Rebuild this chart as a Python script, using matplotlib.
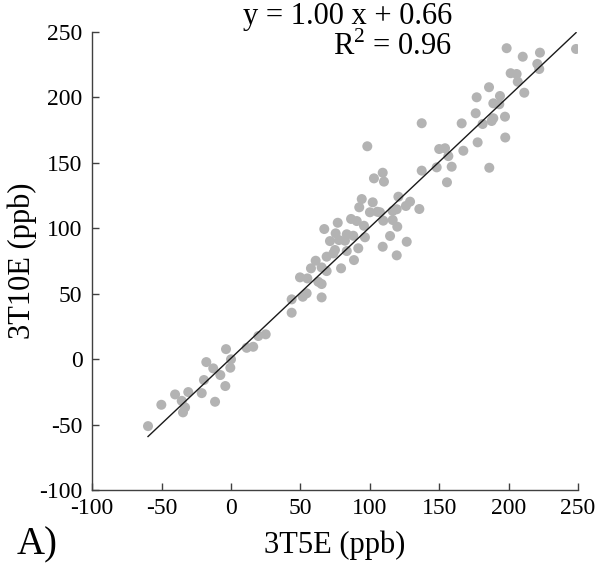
import matplotlib
matplotlib.use("Agg")
import matplotlib.pyplot as plt
import numpy as np

plt.rcParams['font.family'] = ['Liberation Serif', 'DejaVu Serif']
plt.rcParams['axes.unicode_minus'] = False

x_3t5e = [-59.8, -50.2, -40.3, -30.8, -35.5, -33.1, -34.6, -21.1, -19.5, -11.5,
          -17.8, -12.8, -7.7, -4.1, -3.6, 0.0, -0.5, 11.3, 16.0, 19.7, 25.0,
          43.7, 43.7, 49.7, 51.7, 54.5, 55.0, 57.6, 61.0, 62.9, 65.3, 65.3, 65.3,
          68.9, 68.9, 67.2, 71.3, 73.7, 74.9, 75.4, 76.9, 77.8, 79.3, 82.1, 83.4,
          83.4, 86.5, 88.1, 88.6, 90.6, 91.7, 92.4, 94.2, 95.8, 96.5, 100.1, 102.1,
          105.4, 107.3, 98.2, 103.0, 109.3, 110.2, 109.7, 109.3, 114.6, 116.5,
          116.5, 119.4, 119.8, 119.4, 120.6, 126.0, 129.0, 126.6, 135.7,
          137.4, 137.4, 148.2, 150.0, 154.2, 156.6, 155.6, 159.0, 166.2, 167.4,
          176.3, 177.0, 177.7, 181.3, 185.9, 186.1, 187.8, 189.0, 189.0, 193.3,
          193.8, 197.4, 197.6, 198.6, 201.5, 205.8, 206.6, 210.2, 211.3, 220.7,
          222.1, 222.6, 248.6]
y_3t10e = [-51.2, -34.9, -27.0, -25.2, -31.9, -36.9, -40.7, -26.0, -16.0, -32.6,
           -2.3, -7.1, -12.2, -20.6, 7.6, -0.2, -6.6, 8.6, 9.4, 17.6, 18.9,
           45.6, 35.4, 62.4, 47.6, 50.2, 61.6, 69.3, 75.1, 59.0, 57.3, 47.1, 70.0,
           78.2, 67.2, 99.3, 90.1, 80.7, 83.3, 96.0, 104.1, 90.9, 69.3, 90.4, 95.3,
           82.5, 107.0, 94.2, 75.6, 105.4, 84.6, 115.9, 122.2, 101.8, 93.0, 112.1, 119.7,
           112.5, 112.1, 162.5, 138.0, 142.3, 135.5, 105.7, 85.8, 94.0, 113.1,
           106.2, 114.4, 101.1, 79.2, 124.0, 116.9, 120.2, 89.6, 114.6,
           180.1, 143.9, 146.4, 160.4, 161.0, 155.0, 135.0, 146.9, 180.0, 159.1,
           187.7, 199.9, 165.5, 179.5, 207.6, 146.1, 181.8, 183.9, 195.3, 194.6,
           200.9, 185.1, 169.2, 237.4, 218.3, 217.7, 211.8, 230.9, 203.4, 225.4,
           221.5, 234.0, 236.8]

fit_slope = 1.00
fit_intercept = 0.66
x_ticks = [-100, -50, 0, 50, 100, 150, 200, 250]
y_ticks = [-100, -50, 0, 50, 100, 150, 200, 250]

fig = plt.figure(figsize=(6.0, 5.65), dpi=100)
ax = fig.add_axes([0.1537, 0.1327, 0.8096, 0.8112])

ax.scatter(x_3t5e, y_3t10e, s=52, color='#b3b3b3', edgecolors='none', zorder=2)
xl = np.array([min(x_3t5e), max(x_3t5e)])
ax.plot(xl, fit_slope * xl + fit_intercept, color='#1a1a1a', lw=1.0, zorder=3)

ax.set_xlim(-100, 250)
ax.set_ylim(-100, 250)
ax.set_xticks(x_ticks)
ax.set_yticks(y_ticks)
for s in ['top', 'right']:
    ax.spines[s].set_visible(False)
for s in ['left', 'bottom']:
    ax.spines[s].set_color('#404040')
    ax.spines[s].set_linewidth(1.0)
ax.tick_params(direction='in', length=5, width=1.0, color='#404040',
               labelsize=17, labelcolor='black')
ax.tick_params(axis='x', pad=6)
ax.tick_params(axis='y', pad=7)

ax.set_xlabel('3T5E (ppb)', fontsize=22)
ax.xaxis.set_label_coords(0.5, -0.12)
ax.xaxis.label.set_va('center')
ax.set_ylabel('3T10E (ppb)', fontsize=22)
ax.yaxis.set_label_coords(-0.145, 0.5)
ax.yaxis.label.set_va('center')

fig.text(0.753, 0.970, 'y = 1.00 x + 0.66', fontsize=22, ha='right', va='center')
fig.text(0.753, 0.918, r'R$^{\mathregular{2}}$ = 0.96', fontsize=22, ha='right', va='center')

fig.text(0.062, 0.036, 'A)', fontsize=28, ha='center', va='center')

fig.savefig('out.png', dpi=100)
